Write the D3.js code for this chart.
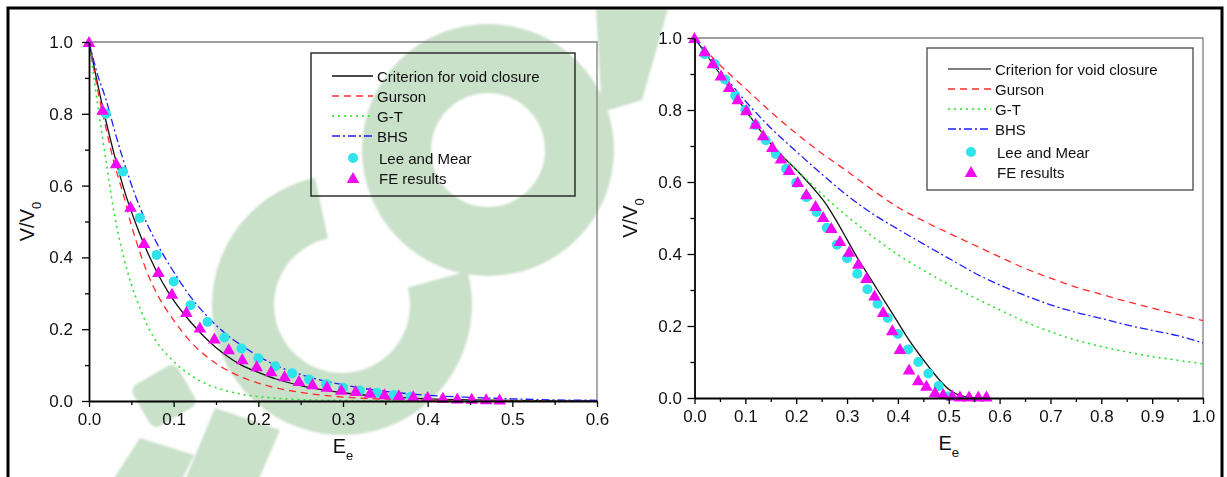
<!DOCTYPE html>
<html>
<head>
<meta charset="utf-8">
<script src="https://cdn.jsdelivr.net/npm/d3@7"></script>
<style>
  html, body { margin: 0; padding: 0; background: #fff; }
  svg { display: block; font-family: "Liberation Sans", Arial, sans-serif; }
</style>
</head>
<body>
<svg id="fig" width="1227" height="477"></svg>
<script>
// ---------- Left panel: relative void volume vs effective strain ----------
const leftCriterionE = [0, 0.01, 0.02, 0.03, 0.04, 0.06, 0.08, 0.10, 0.12, 0.14, 0.16, 0.18, 0.20, 0.22, 0.25, 0.30, 0.35, 0.40, 0.45, 0.50, 0.55, 0.60];
const leftCriterionV = [1, 0.885, 0.78, 0.685, 0.60, 0.465, 0.36, 0.28, 0.22, 0.17, 0.13, 0.10, 0.08, 0.062, 0.043, 0.023, 0.012, 0.006, 0.003, 0.0015, 0.0008, 0.0005];

const leftGursonE = [0, 0.01, 0.02, 0.03, 0.04, 0.05, 0.06, 0.07, 0.08, 0.10, 0.12, 0.14, 0.16, 0.18, 0.20, 0.22, 0.25, 0.30, 0.35, 0.40, 0.50, 0.60];
const leftGursonV = [1, 0.87, 0.76, 0.66, 0.58, 0.49, 0.415, 0.35, 0.30, 0.225, 0.165, 0.122, 0.09, 0.067, 0.05, 0.037, 0.024, 0.011, 0.005, 0.002, 0.0005, 0];

const leftGTE = [0, 0.01, 0.02, 0.03, 0.04, 0.05, 0.06, 0.07, 0.08, 0.10, 0.12, 0.14, 0.16, 0.18, 0.20, 0.22, 0.25, 0.30, 0.35, 0.40, 0.60];
const leftGTV = [1, 0.83, 0.67, 0.52, 0.41, 0.325, 0.26, 0.205, 0.165, 0.11, 0.072, 0.046, 0.03, 0.019, 0.012, 0.008, 0.004, 0.0015, 0.0005, 0, 0];

const leftBHSE = [0, 0.01, 0.02, 0.03, 0.04, 0.06, 0.08, 0.10, 0.12, 0.14, 0.16, 0.18, 0.20, 0.22, 0.25, 0.30, 0.35, 0.40, 0.45, 0.50, 0.55, 0.60];
const leftBHSV = [1, 0.91, 0.84, 0.755, 0.675, 0.54, 0.44, 0.36, 0.29, 0.235, 0.19, 0.155, 0.125, 0.10, 0.074, 0.045, 0.027, 0.016, 0.010, 0.006, 0.003, 0.002];

const leftLeeE = [0.02, 0.04, 0.06, 0.08, 0.10, 0.12, 0.14, 0.16, 0.18, 0.20, 0.22, 0.24, 0.26, 0.28, 0.30, 0.32, 0.34, 0.36, 0.38];
const leftLeeV = [0.80, 0.639, 0.51, 0.407, 0.333, 0.267, 0.22, 0.177, 0.146, 0.119, 0.097, 0.077, 0.06, 0.047, 0.037, 0.029, 0.023, 0.017, 0.012];

const leftFEE = [0, 0.016, 0.032, 0.049, 0.065, 0.082, 0.098, 0.115, 0.131, 0.148, 0.165, 0.181, 0.198, 0.215, 0.231, 0.248, 0.264, 0.281, 0.298, 0.315, 0.332, 0.349, 0.366, 0.383, 0.40, 0.418, 0.435, 0.452, 0.469, 0.485];
const leftFEV = [1.0, 0.811, 0.662, 0.541, 0.44, 0.359, 0.299, 0.248, 0.205, 0.174, 0.144, 0.116, 0.097, 0.083, 0.069, 0.056, 0.047, 0.040, 0.031, 0.028, 0.023, 0.019, 0.016, 0.013, 0.011, 0.009, 0.007, 0.006, 0.005, 0.004];

// ---------- Right panel ----------
const rightCriterionE = [0, 0.05, 0.10, 0.15, 0.18, 0.20, 0.22, 0.24, 0.26, 0.28, 0.30, 0.32, 0.34, 0.36, 0.38, 0.40, 0.42, 0.44, 0.46, 0.48, 0.50, 0.52, 0.54, 0.56, 0.58];
const rightCriterionV = [1, 0.9, 0.8, 0.706, 0.662, 0.634, 0.604, 0.572, 0.536, 0.49, 0.44, 0.39, 0.345, 0.30, 0.255, 0.21, 0.165, 0.125, 0.088, 0.053, 0.024, 0.008, 0.002, 0, 0];

const rightGursonE = [0, 0.05, 0.10, 0.15, 0.20, 0.25, 0.30, 0.35, 0.40, 0.45, 0.50, 0.55, 0.60, 0.65, 0.70, 0.75, 0.80, 0.85, 0.90, 0.95, 1.0];
const rightGursonV = [1, 0.925, 0.86, 0.795, 0.735, 0.68, 0.63, 0.578, 0.53, 0.492, 0.458, 0.425, 0.392, 0.36, 0.333, 0.308, 0.288, 0.268, 0.25, 0.232, 0.215];

const rightGTE = [0, 0.05, 0.10, 0.15, 0.20, 0.25, 0.30, 0.35, 0.40, 0.45, 0.50, 0.55, 0.60, 0.65, 0.70, 0.75, 0.80, 0.85, 0.90, 0.95, 1.0];
const rightGTV = [1, 0.9, 0.8, 0.707, 0.635, 0.567, 0.505, 0.449, 0.398, 0.355, 0.315, 0.279, 0.245, 0.212, 0.184, 0.161, 0.143, 0.128, 0.115, 0.105, 0.095];

const rightBHSE = [0, 0.05, 0.10, 0.15, 0.20, 0.25, 0.30, 0.35, 0.40, 0.45, 0.50, 0.55, 0.60, 0.65, 0.70, 0.75, 0.80, 0.85, 0.90, 0.95, 1.0];
const rightBHSV = [1, 0.91, 0.825, 0.75, 0.685, 0.622, 0.563, 0.512, 0.469, 0.428, 0.388, 0.348, 0.314, 0.285, 0.259, 0.238, 0.221, 0.203, 0.188, 0.173, 0.153];

const rightLeeE = [0.02, 0.04, 0.06, 0.08, 0.10, 0.12, 0.14, 0.16, 0.18, 0.20, 0.22, 0.24, 0.26, 0.28, 0.30, 0.32, 0.34, 0.36, 0.38, 0.40, 0.42, 0.44, 0.46, 0.48, 0.50];
const rightLeeV = [0.955, 0.928, 0.885, 0.84, 0.80, 0.758, 0.716, 0.678, 0.637, 0.598, 0.558, 0.517, 0.473, 0.426, 0.388, 0.345, 0.302, 0.262, 0.222, 0.178, 0.135, 0.10, 0.068, 0.033, 0.005];

const rightFEE = [0, 0.02, 0.036, 0.052, 0.068, 0.085, 0.102, 0.12, 0.135, 0.153, 0.17, 0.186, 0.203, 0.22, 0.238, 0.253, 0.269, 0.286, 0.304, 0.322, 0.338, 0.354, 0.371, 0.389, 0.404, 0.422, 0.44, 0.456, 0.473, 0.489, 0.507, 0.522, 0.54, 0.558, 0.574];
const rightFEV = [1, 0.963, 0.93, 0.896, 0.864, 0.83, 0.799, 0.762, 0.73, 0.697, 0.665, 0.633, 0.6, 0.566, 0.533, 0.503, 0.472, 0.436, 0.406, 0.373, 0.333, 0.285, 0.239, 0.188, 0.136, 0.079, 0.049, 0.034, 0.016, 0.011, 0.007, 0.004, 0.004, 0.004, 0.004];

// ---------- Axis ticks and legend text ----------
const yTicks = [0, 0.2, 0.4, 0.6, 0.8, 1.0];
const yMinorTicks = [0.1, 0.3, 0.5, 0.7, 0.9];
const leftXTicks = [0, 0.1, 0.2, 0.3, 0.4, 0.5, 0.6];
const leftXMinorTicks = [0.05, 0.15, 0.25, 0.35, 0.45, 0.55];
const rightXTicks = [0, 0.1, 0.2, 0.3, 0.4, 0.5, 0.6, 0.7, 0.8, 0.9, 1.0];
const rightXMinorTicks = [0.05, 0.15, 0.25, 0.35, 0.45, 0.55, 0.65, 0.75, 0.85, 0.95];
const legendLabels = ["Criterion for void closure", "Gurson", "G-T", "BHS", "Lee and Mear", "FE results"];

// ---------- Drawing ----------
const svg = d3.select("#fig");
const zip = (a, b) => a.map((v, i) => [v, b[i]]);

// light green stamp lying under the whole figure
const defs = svg.append("defs");
defs.append("clipPath").attr("id", "inside")
  .append("rect").attr("x", 9).attr("y", 9).attr("width", 1212).attr("height", 470);
defs.append("filter").attr("id", "soft")
  .append("feGaussianBlur").attr("stdDeviation", 0.9);
const stamp = svg.append("g").attr("clip-path", "url(#inside)")
  .attr("filter", "url(#soft)").attr("fill", "#c9e0c9");
const deg = Math.PI / 180;
stamp.append("path")
  .attr("transform", "translate(488,150)")
  .attr("d", d3.arc().innerRadius(57).outerRadius(126).startAngle(0).endAngle(2 * Math.PI)());
stamp.append("path")
  .attr("transform", "translate(342,305)")
  .attr("d", d3.arc().innerRadius(68).outerRadius(130).startAngle(75 * deg).endAngle(348 * deg)());
stamp.append("rect")
  .attr("x", -26).attr("y", -24).attr("width", 52).attr("height", 48).attr("rx", 8)
  .attr("transform", "translate(164,396) rotate(-30)");
stamp.append("path").attr("d", "M140,438L194,455L162,520L100,500Z");
stamp.append("path").attr("d", "M215,408L280,430L250,500L185,480Z");
stamp.append("path").attr("d", "M596,9L668,9L642,100L602,112Z");

const lineStyles = [
  { color: "#111", dash: null, width: 1.3 },
  { color: "#ff2b2b", dash: "7,5", width: 1.3 },
  { color: "#1ee61e", dash: "2,4", width: 1.5 },
  { color: "#1e1eff", dash: "8,3,2,3", width: 1.3 }
];
const cyan = "#2fe3ea";
const magenta = "#f20af2";
const triPath = "M0,-6L6.3,5L-6.3,5Z";

function drawPanel(p) {
  const g = svg.append("g");
  const x = d3.scaleLinear().domain(p.xDomain).range([p.left, p.right]);
  const y = d3.scaleLinear().domain([0, 1]).range([p.bottom, p.top]);

  // top and right frame
  g.append("path")
    .attr("d", `M${p.left},${p.top}H${p.right}V${p.bottom}`)
    .attr("fill", "none").attr("stroke", "#808080").attr("stroke-width", 1.3);

  // model curves
  const line = d3.line().x(d => x(d[0])).y(d => y(d[1])).curve(d3.curveMonotoneX);
  p.curves.forEach((c, i) => {
    const s = lineStyles[i];
    g.append("path").datum(zip(c[0], c[1]))
      .attr("d", line).attr("fill", "none")
      .attr("stroke", s.color).attr("stroke-width", s.width)
      .attr("stroke-dasharray", s.dash);
  });

  // Lee and Mear points
  g.selectAll("circle.lee").data(zip(p.lee[0], p.lee[1])).join("circle")
    .attr("class", "lee")
    .attr("cx", d => x(d[0])).attr("cy", d => y(d[1])).attr("r", 5)
    .attr("fill", cyan);

  // FE results
  g.selectAll("path.fe").data(zip(p.fe[0], p.fe[1])).join("path")
    .attr("class", "fe").attr("d", triPath)
    .attr("transform", d => `translate(${x(d[0])},${y(d[1])})`)
    .attr("fill", magenta);

  // axes
  const styleAxis = sel => {
    sel.selectAll("path.domain").attr("stroke", "#000").attr("stroke-width", 1.8);
    sel.selectAll(".tick line").attr("stroke", "#000").attr("stroke-width", 1.3);
    sel.selectAll(".tick text").attr("fill", "#111").style("font-size", "17px")
      .style("font-family", "'Liberation Sans', Arial, sans-serif");
  };
  g.append("g").attr("transform", `translate(0,${p.bottom})`)
    .call(d3.axisBottom(x).tickValues(p.xMinor).tickSize(4).tickFormat(""))
    .call(a => a.select(".domain").remove())
    .call(styleAxis);
  g.append("g").attr("transform", `translate(${p.left},0)`)
    .call(d3.axisLeft(y).tickValues(yMinorTicks).tickSize(4).tickFormat(""))
    .call(a => a.select(".domain").remove())
    .call(styleAxis);
  g.append("g").attr("transform", `translate(0,${p.bottom})`)
    .call(d3.axisBottom(x).tickValues(p.xTicks).tickSize(6).tickSizeOuter(0)
      .tickPadding(6).tickFormat(d3.format(".1f")))
    .call(styleAxis);
  g.append("g").attr("transform", `translate(${p.left},0)`)
    .call(d3.axisLeft(y).tickValues(yTicks).tickSize(7).tickSizeOuter(0)
      .tickPadding(p.yPad).tickFormat(d3.format(".1f")))
    .call(styleAxis);

  // axis titles
  const xt = g.append("text")
    .attr("x", (p.left + p.right) / 2).attr("y", p.bottom + 52)
    .attr("text-anchor", "middle").attr("fill", "#111").style("font-size", "20px");
  xt.append("tspan").text("E");
  xt.append("tspan").text("e").style("font-size", "13px").attr("dy", 7);

  const yt = g.append("text")
    .attr("transform", `translate(${p.yTitleX},${(p.top + p.bottom) / 2}) rotate(-90)`)
    .attr("text-anchor", "middle").attr("fill", "#111").style("font-size", "20px");
  yt.append("tspan").text("V/V");
  yt.append("tspan").text("0").style("font-size", "13px").attr("dy", 7);

  // legend
  const L = p.legend;
  g.append("rect")
    .attr("x", L.x0).attr("y", L.y0)
    .attr("width", L.x1 - L.x0).attr("height", L.y1 - L.y0)
    .attr("fill", "none").attr("stroke", L.stroke).attr("stroke-width", 1.4);
  legendLabels.forEach((lab, i) => {
    const cy = L.rows[i];
    if (i < 4) {
      const s = lineStyles[i];
      g.append("line")
        .attr("x1", L.lineX0).attr("x2", L.lineX1).attr("y1", cy).attr("y2", cy)
        .attr("stroke", i === 0 ? L.firstLine : s.color).attr("stroke-width", s.width)
        .attr("stroke-dasharray", s.dash);
    } else if (i === 4) {
      g.append("circle").attr("cx", L.markX).attr("cy", cy).attr("r", 5).attr("fill", cyan);
    } else {
      g.append("path").attr("d", triPath)
        .attr("transform", `translate(${L.markX},${cy})`).attr("fill", magenta);
    }
    g.append("text")
      .attr("x", i < 4 ? L.textX : L.textX + 2).attr("y", cy + 5.5)
      .attr("fill", "#111").style("font-size", "15px").text(lab);
  });
}

drawPanel({
  xDomain: [0, 0.6], left: 89, right: 597, top: 42, bottom: 401,
  xTicks: leftXTicks, xMinor: leftXMinorTicks, yPad: 9, yTitleX: 34,
  curves: [[leftCriterionE, leftCriterionV], [leftGursonE, leftGursonV],
           [leftGTE, leftGTV], [leftBHSE, leftBHSV]],
  lee: [leftLeeE, leftLeeV], fe: [leftFEE, leftFEV],
  legend: { x0: 311, y0: 53, x1: 575, y1: 196, stroke: "#222", firstLine: "#111",
            rows: [76, 96, 116, 136, 158, 178], lineX0: 332, lineX1: 373,
            textX: 377, markX: 353 }
});

drawPanel({
  xDomain: [0, 1], left: 694.5, right: 1203, top: 38, bottom: 398,
  xTicks: rightXTicks, xMinor: rightXMinorTicks, yPad: 5.5, yTitleX: 637,
  curves: [[rightCriterionE, rightCriterionV], [rightGursonE, rightGursonV],
           [rightGTE, rightGTV], [rightBHSE, rightBHSV]],
  lee: [rightLeeE, rightLeeV], fe: [rightFEE, rightFEV],
  legend: { x0: 927, y0: 48, x1: 1193, y1: 190, stroke: "#555", firstLine: "#555",
            rows: [69, 89, 109, 129, 152, 172], lineX0: 948, lineX1: 991,
            textX: 995, markX: 971 }
});

// outer frame of the figure
svg.append("rect")
  .attr("x", 8).attr("y", 8).attr("width", 1214).attr("height", 520)
  .attr("fill", "none").attr("stroke", "#000").attr("stroke-width", 3);
</script>
</body>
</html>
